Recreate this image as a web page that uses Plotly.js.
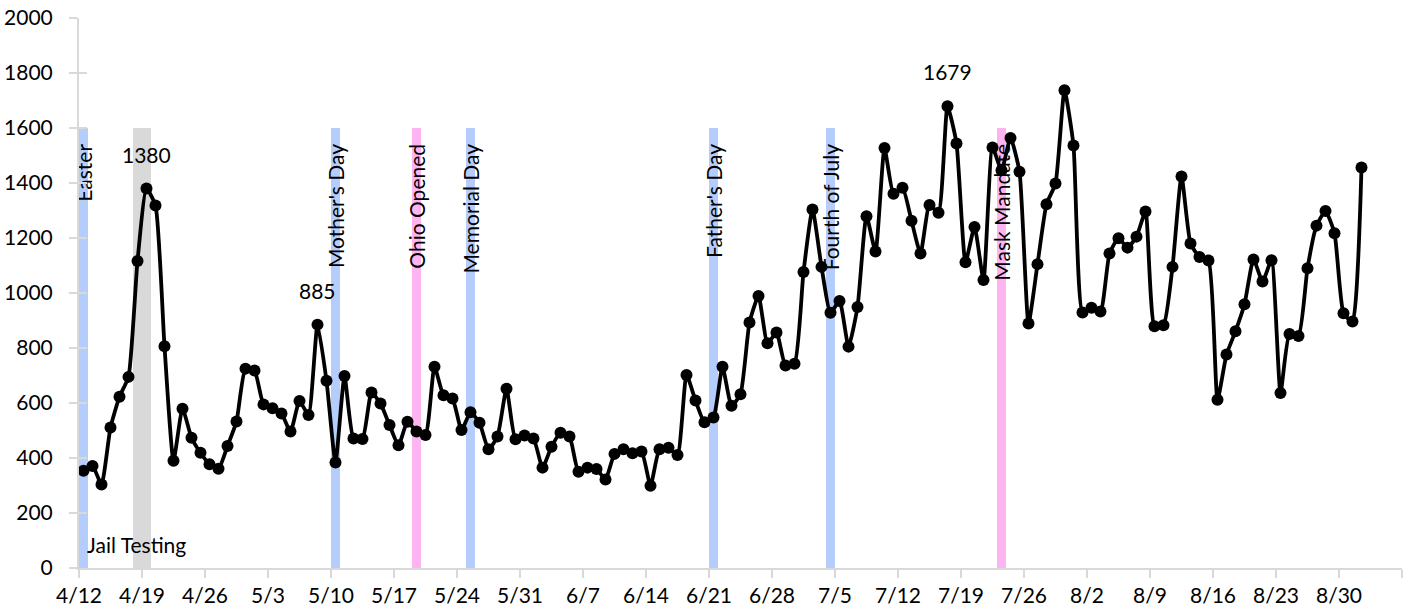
<!DOCTYPE html>
<html>
<head>
<meta charset="utf-8">
<script src="https://cdn.plot.ly/plotly-3.0.1.min.js"></script>
<style>
  html, body { margin: 0; padding: 0; background: #fff; }
  #chart { width: 1411px; height: 613px; }
</style>
</head>
<body>
<div id="chart"></div>
<script>
// Daily values, starting 2020-04-12 and ending 2020-09-01
const startDate = [2020, 3, 12];
const values = [
  354, 371, 304, 511, 623, 695, 1116, 1380, 1318, 806,
  390, 579, 474, 419, 377, 361, 444, 533, 725, 718,
  595, 581, 562, 496, 607, 556, 885, 681, 384, 698,
  471, 469, 638, 598, 520, 446, 532, 496, 484, 732,
  628, 616, 502, 566, 528, 432, 478, 652, 468, 482,
  471, 365, 441, 492, 478, 350, 365, 360, 322, 415,
  432, 417, 424, 299, 432, 437, 411, 702, 609, 530,
  547, 732, 590, 632, 893, 989, 817, 856, 736, 743,
  1076, 1304, 1095, 928, 971, 805, 949, 1279, 1151, 1527,
  1361, 1383, 1263, 1144, 1320, 1292, 1679, 1544, 1112, 1240,
  1047, 1529, 1446, 1564, 1441, 889, 1105, 1323, 1398, 1737,
  1536, 929, 946, 933, 1144, 1199, 1165, 1205, 1296, 879,
  883, 1095, 1424, 1180, 1131, 1118, 612, 776, 861, 959,
  1122, 1042, 1119, 636, 851, 844, 1090, 1245, 1298, 1217,
  926, 896, 1456
];

// Tick positions and labels
const tickDates = ['2020-04-12','2020-04-19','2020-04-26','2020-05-03','2020-05-10','2020-05-17',
  '2020-05-24','2020-05-31','2020-06-07','2020-06-14','2020-06-21','2020-06-28','2020-07-05',
  '2020-07-12','2020-07-19','2020-07-26','2020-08-02','2020-08-09','2020-08-16','2020-08-23',
  '2020-08-30','2020-09-06'];
const tickLabels = ['4/12','4/19','4/26','5/3','5/10','5/17','5/24','5/31','6/7','6/14','6/21',
  '6/28','7/5','7/12','7/19','7/26','8/2','8/9','8/16','8/23','8/30',''];

// Event bands
const eventNames = ['Easter', "Mother's Day", 'Ohio Opened', 'Memorial Day', "Father's Day", 'Fourth of July', 'Mask Mandate'];
const eventStart = ['2020-04-12','2020-05-10','2020-05-19','2020-05-25','2020-06-21','2020-07-04','2020-07-23'];
const eventEnd   = ['2020-04-13','2020-05-11','2020-05-20','2020-05-26','2020-06-22','2020-07-05','2020-07-24'];
const eventKind  = ['holiday','holiday','policy','holiday','holiday','holiday','policy'];

const testingName = 'Jail Testing';
const testingStart = '2020-04-18';
const testingEnd = '2020-04-20';

// Labelled peaks
const peakDates = ['2020-04-19','2020-05-08','2020-07-17'];

const FONT = 'Lato, "Open Sans", sans-serif';
const kindColor = { holiday: '#b5cdfd', policy: '#fdb4f1' };
const BAND_TOP = 1600;
const LABEL_TOP = 1542;

function dayString(i, hour) {
  const d = new Date(Date.UTC(startDate[0], startDate[1], startDate[2] + i, hour || 0));
  return d.toISOString().slice(0, 10) + (hour ? ' ' + String(hour).padStart(2, '0') + ':00' : '');
}
const xs = values.map((v, i) => dayString(i, 12));
const dayKeys = values.map((v, i) => dayString(i));

const shapes = [];
shapes.push({
  type: 'rect', xref: 'x', yref: 'y', layer: 'below',
  x0: testingStart, x1: testingEnd, y0: 0, y1: BAND_TOP,
  fillcolor: '#d9d9d9', line: { width: 0 }
});
eventNames.forEach((name, i) => {
  shapes.push({
    type: 'rect', xref: 'x', yref: 'y', layer: 'below',
    x0: eventStart[i], x1: eventEnd[i], y0: 0, y1: BAND_TOP,
    fillcolor: kindColor[eventKind[i]], line: { width: 0 }
  });
});
// label carriers (invisible), drawn below the data line
eventNames.forEach((name, i) => {
  shapes.push({
    type: 'rect', xref: 'x', yref: 'y', layer: 'below',
    x0: eventStart[i], x1: eventEnd[i], y0: 0, y1: LABEL_TOP,
    fillcolor: 'rgba(0,0,0,0)', line: { width: 0 },
    label: {
      text: name, textangle: -90, textposition: 'top center',
      xanchor: 'right', yanchor: 'middle',
      font: { family: FONT, size: 21, color: '#000' }, padding: 0
    }
  });
});

const annotations = peakDates.map(d => {
  const idx = dayKeys.indexOf(d);
  return {
    x: xs[idx], y: values[idx], xref: 'x', yref: 'y',
    text: String(values[idx]), showarrow: false,
    xanchor: 'center', yanchor: 'bottom', yshift: 20,
    font: { family: FONT, size: 21, color: '#000' }
  };
});
annotations.push({
  x: '2020-04-12 16:00', y: 84, xref: 'x', yref: 'y',
  text: testingName, showarrow: false, xanchor: 'left', yanchor: 'middle',
  font: { family: FONT, size: 21, color: '#000' }
});

const trace = {
  x: xs, y: values, type: 'scatter', mode: 'lines+markers',
  line: { color: '#000', width: 3.8, shape: 'spline', smoothing: 0.5 },
  marker: { color: '#000', size: 12 },
  hoverinfo: 'x+y'
};

const layout = {
  width: 1411, height: 613,
  margin: { l: 79, r: 9, t: 18, b: 45 },
  paper_bgcolor: '#fff', plot_bgcolor: '#fff',
  showlegend: false,
  font: { family: FONT, size: 21, color: '#000' },
  xaxis: {
    type: 'date', range: ['2020-04-12', '2020-09-06'],
    tickvals: tickDates, ticktext: tickLabels,
    showgrid: false, zeroline: false,
    showline: true, linecolor: '#d9d9d9', linewidth: 2,
    ticks: 'outside', ticklen: 8, tickwidth: 2, tickcolor: '#d9d9d9',
    tickfont: { family: FONT, size: 21, color: '#000' }
  },
  yaxis: {
    range: [0, 2000], dtick: 200, tick0: 0,
    showgrid: false, zeroline: false,
    showline: true, linecolor: '#d9d9d9', linewidth: 2,
    ticks: 'outside', ticklen: 8, tickwidth: 2, tickcolor: '#d9d9d9',
    ticklabelstandoff: 12,
    tickfont: { family: FONT, size: 21, color: '#000' }
  },
  yaxis2: {
    overlaying: 'y', side: 'left', range: [0, 2000], dtick: 200, tick0: 0,
    showgrid: false, zeroline: false, showline: false, showticklabels: false,
    ticks: 'inside', ticklen: 8, tickwidth: 2, tickcolor: '#d9d9d9'
  },
  shapes: shapes,
  annotations: annotations
};

const helper = { x: [xs[0]], y: [0], yaxis: 'y2', type: 'scatter', mode: 'markers',
  marker: { opacity: 0 }, hoverinfo: 'skip' };

Plotly.newPlot('chart', [helper, trace], layout, { displayModeBar: false, staticPlot: true });
</script>
</body>
</html>
